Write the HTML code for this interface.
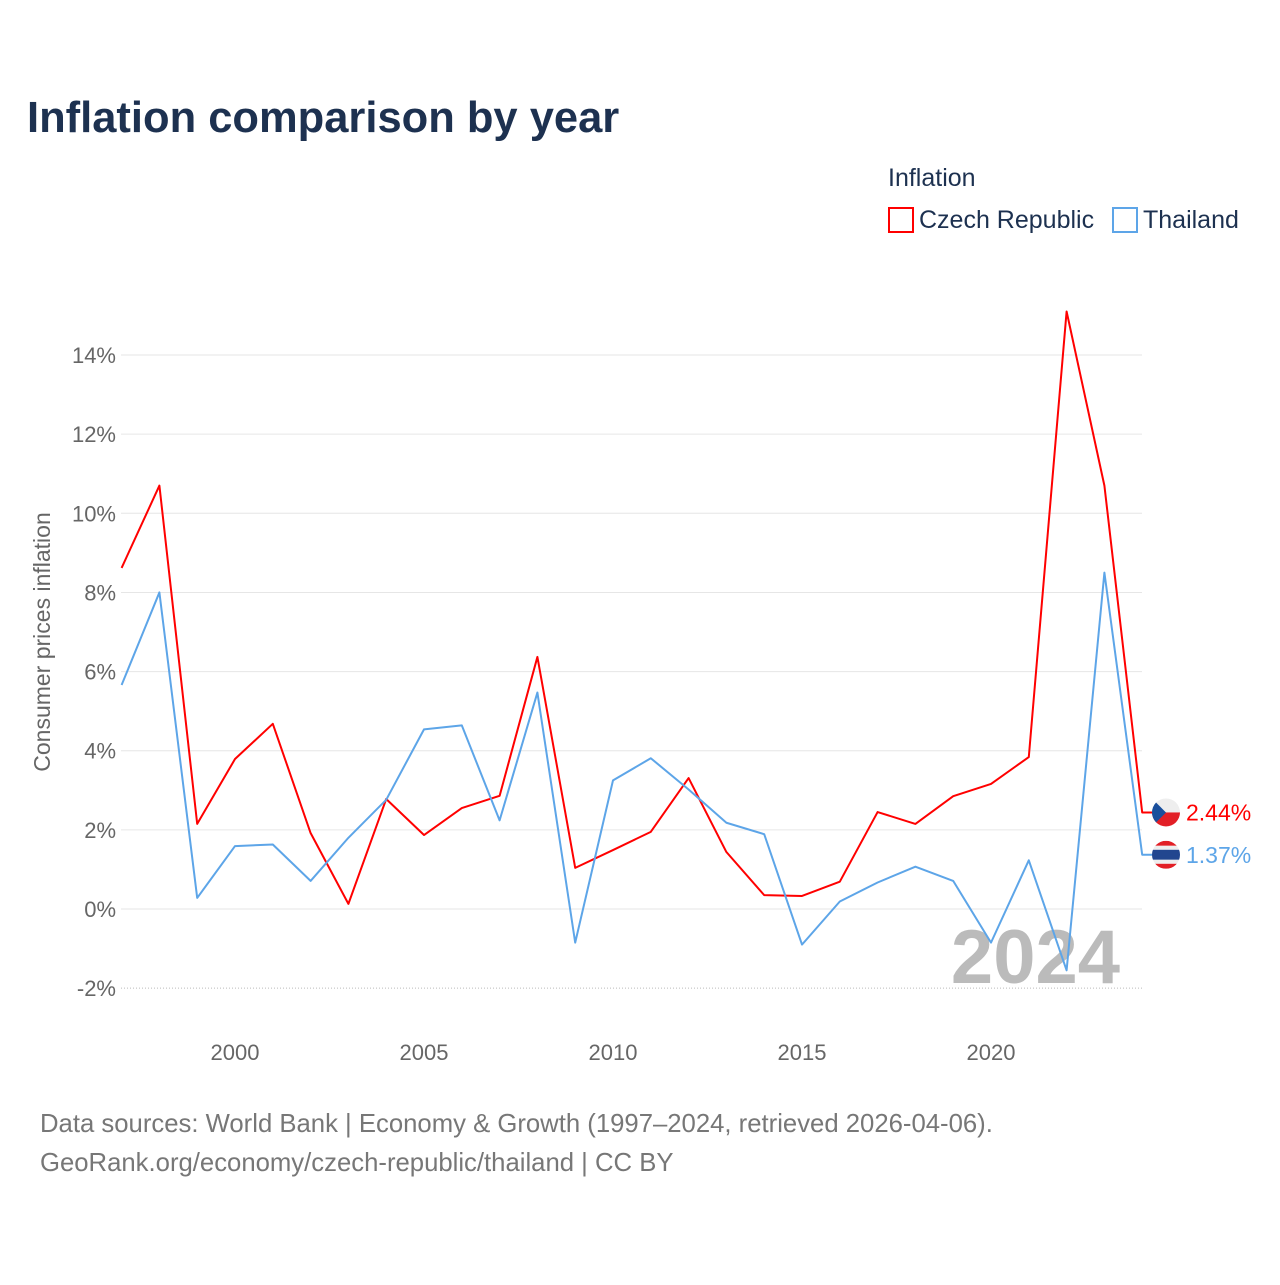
<!DOCTYPE html>
<html><head><meta charset="utf-8"><style>
body{margin:0;background:#fff;width:1280px;height:1280px;overflow:hidden;font-family:"Liberation Sans",sans-serif}
</style></head><body>
<svg id="chart" width="1280" height="1280" xmlns="http://www.w3.org/2000/svg">
<text x="27" y="132" font-size="43.5" font-weight="bold" fill="#1d3150">Inflation comparison by year</text>
<text x="888" y="186" font-size="25" fill="#1d3150">Inflation</text>
<g><rect x="889" y="208" width="24" height="24" fill="none" stroke="#ff0000" stroke-width="2"/><text x="919" y="228" font-size="25" fill="#1d3150">Czech Republic</text></g>
<g><rect x="1113" y="208" width="24" height="24" fill="none" stroke="#5da5e8" stroke-width="2"/><text x="1143" y="228" font-size="25" fill="#1d3150">Thailand</text></g>
<text transform="translate(50,642) rotate(-90)" text-anchor="middle" font-size="23" fill="#666">Consumer prices inflation</text>
<g id="grid"></g><g id="yticks"></g><g id="xticks"></g>
<text x="1120" y="983" text-anchor="end" font-size="76" font-weight="bold" fill="#bbb">2024</text>
<g id="series"></g>
<text x="40" y="1132" font-size="25.7" fill="#777">Data sources: World Bank | Economy &amp; Growth (1997–2024, retrieved 2026-04-06).</text>
<text x="40" y="1171" font-size="25.7" fill="#777">GeoRank.org/economy/czech-republic/thailand | CC BY</text>
</svg>
<script>
const years=[1997,1998,1999,2000,2001,2002,2003,2004,2005,2006,2007,2008,2009,2010,2011,2012,2013,2014,2015,2016,2017,2018,2019,2020,2021,2022,2023,2024];
const czech=[8.62,10.7,2.15,3.79,4.68,1.92,0.13,2.78,1.87,2.55,2.86,6.37,1.04,1.49,1.95,3.31,1.44,0.35,0.33,0.69,2.45,2.15,2.85,3.16,3.84,15.1,10.7,2.44];
const thailand=[5.66,8.0,0.28,1.59,1.63,0.71,1.8,2.76,4.54,4.64,2.24,5.47,-0.85,3.25,3.81,3.02,2.18,1.89,-0.9,0.19,0.67,1.07,0.71,-0.85,1.23,-1.55,8.5,1.37];
const yTicks=[-2,0,2,4,6,8,10,12,14];
const xTicks=[2000,2005,2010,2015,2020];
const NS="http://www.w3.org/2000/svg";
const X=y=>121.6+(y-1997)*37.8;
const Y=v=>909-v*39.57;
function mk(t,a,p){const e=document.createElementNS(NS,t);for(const k in a)e.setAttribute(k,a[k]);p.appendChild(e);return e;}
const grid=document.getElementById('grid'),yt=document.getElementById('yticks'),xt=document.getElementById('xticks'),sr=document.getElementById('series');
yTicks.forEach(v=>{
 const l=mk('line',{x1:121,x2:1142,y1:Y(v),y2:Y(v),stroke:v===-2?'#bbb':'#e6e6e6','stroke-width':1,'stroke-dasharray':v===-2?'1,2':'none'},grid);
 
 
 const t=mk('text',{x:116,y:Y(v)+8,'text-anchor':'end','font-size':22,fill:'#666'},yt);
 t.textContent=v+'%';
 
 
});
xTicks.forEach(v=>{
 const t=mk('text',{x:X(v),y:1060,'text-anchor':'middle','font-size':22,fill:'#666'},xt);
 t.textContent=v;
 
 
});
function draw(vals,color,name,label){
 let d=vals.map((v,i)=>(i?'L':'M')+X(years[i])+','+Y(v)).join(' ');
 const last=vals[vals.length-1];
 d+=' L'+(X(2024)+10)+','+Y(last);
 const p=mk('path',{d:d,fill:'none',stroke:color,'stroke-width':2,'stroke-linejoin':'round'},sr);
 
 
 const t=mk('text',{x:1186,y:Y(last)+8,'font-size':23,fill:color},sr);
 t.textContent=label;
 
 
 return Y(last);
}
const cy=draw(czech,'#ff0000','czech','2.44%');
const ty=draw(thailand,'#5da5e8','thailand','1.37%');
const defs=mk('defs',{},sr);
const c1=mk('clipPath',{id:'cc'},defs);mk('circle',{cx:1166,cy:cy,r:14},c1);
const c2=mk('clipPath',{id:'tc'},defs);mk('circle',{cx:1166,cy:ty,r:14},c2);
const f1=mk('g',{'clip-path':'url(#cc)'},sr);


mk('rect',{x:1152,y:cy-14,width:28,height:14,fill:'#eee'},f1);
mk('rect',{x:1152,y:cy,width:28,height:14,fill:'#e21f26'},f1);
mk('polygon',{points:`1152,${cy-14} 1166,${cy} 1152,${cy+14}`,fill:'#1a4f9c'},f1);
const f2=mk('g',{'clip-path':'url(#tc)'},sr);


[['#e21f26',0,5],['#eee',5,4],['#22468f',9,10],['#eee',19,4],['#e21f26',23,5]].forEach(s=>mk('rect',{x:1152,y:ty-14+s[1],width:28,height:s[2],fill:s[0]},f2));
</script>
</body></html>
